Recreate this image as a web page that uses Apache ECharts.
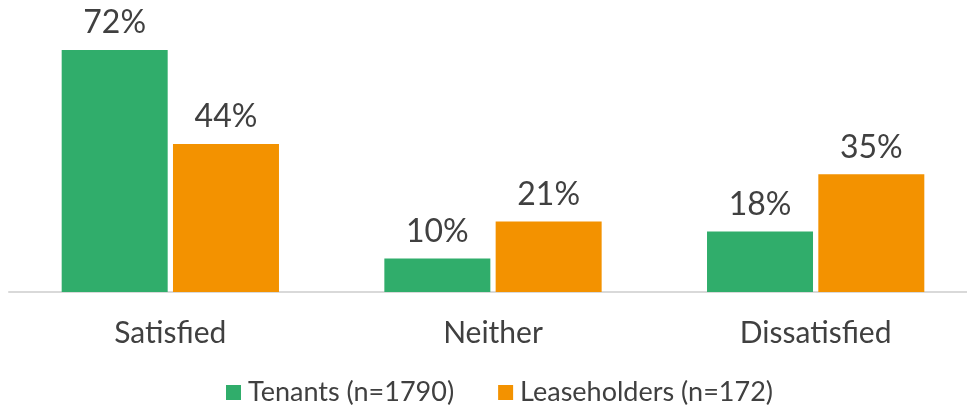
<!DOCTYPE html>
<html>
<head>
<meta charset="utf-8">
<script src="https://cdn.jsdelivr.net/npm/echarts@6/dist/echarts.min.js"></script>
<style>
    html, body { margin: 0; padding: 0; background: #fff; }
    #chart { width: 967px; height: 408px; }
</style>
</head>
<body>
<div id="chart"></div>
<script>
    // data
    const categories = ['Satisfied', 'Neither', 'Dissatisfied']
    const tenants = [72, 10, 18]
    const leaseholders = [44, 21, 35]
    const seriesNames = ['Tenants (n=1790)', 'Leaseholders (n=172)']

    const textColor = '#404040'
    const fontFamily = 'Lato, "Open Sans", sans-serif'

    const chart = echarts.init(document.getElementById('chart'))

    // label above each bar
    const barLabel = {
        show: true,
        position: 'top',
        distance: 11,
        formatter: '{c}%',
        color: textColor,
        fontSize: 32,
        fontFamily: fontFamily
    }

    chart.setOption({
        animation: false,
        color: ['#30AD6B', '#F39200'],
        grid: {
            left: 9,
            width: 968,
            top: 23,
            bottom: 116,
            outerBoundsMode: 'none'
        },
        legend: {
            data: seriesNames,
            left: 221,
            top: 374,
            itemWidth: 15,
            itemHeight: 15,
            itemGap: 44,
            icon: 'rect',
            textStyle: {
                color: textColor,
                fontSize: 27,
                fontFamily: fontFamily,
                padding: [0, 0, 0, 2]
            }
        },
        xAxis: {
            type: 'category',
            data: categories,
            axisLine: {
                lineStyle: { color: '#d9d9d9', width: 2 }
            },
            axisTick: { show: false },
            axisLabel: {
                color: textColor,
                fontSize: 30,
                fontFamily: fontFamily,
                margin: 26
            }
        },
        yAxis: {
            type: 'value',
            min: 0,
            max: 80,
            show: false,
            splitLine: { show: false }
        },
        series: [
            {
                name: seriesNames[0],
                type: 'bar',
                data: tenants,
                barWidth: 106,
                barGap: '5%',
                label: barLabel
            },
            {
                name: seriesNames[1],
                type: 'bar',
                data: leaseholders,
                barWidth: 106,
                barGap: '5%',
                label: barLabel
            }
        ]
    })
</script>
</body>
</html>
